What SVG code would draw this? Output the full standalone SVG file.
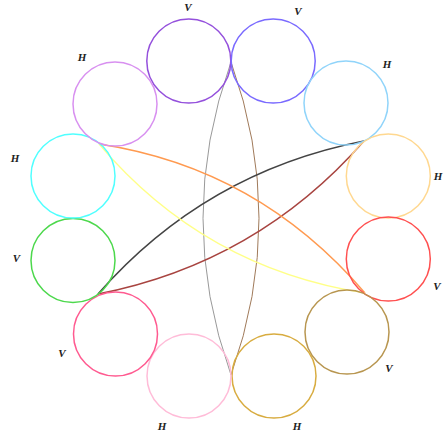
<svg xmlns="http://www.w3.org/2000/svg" width="444" height="436" viewBox="0 0 444 436">
<style>
.n{fill:none;stroke-width:1.5}
.l{font-family:"Liberation Serif","DejaVu Serif",serif;font-style:italic;font-weight:bold;font-size:11px;fill:#222;text-anchor:middle}
.e{fill:none}
</style>
<rect width="444" height="436" fill="#fff"/>
<g id="edges">
<path class="e" d="M231,62 Q175,218 231,375" stroke="#999" stroke-width="1"/>
<path class="e" d="M231,62 Q287,218 231,375" stroke="#a07a5a" stroke-width="1"/>
<path class="e" d="M98,294 Q205,172 364,141" stroke="#444" stroke-width="1.6"/>
<path class="e" d="M98,294 Q257,263 364,141" stroke="#a84440" stroke-width="1.5"/>
<path class="e" d="M99,144 Q258,168 365,293" stroke="#ff9a50" stroke-width="1.3"/>
<path class="e" d="M99,144 Q204,268 365,293" stroke="#ffff88" stroke-width="1.2"/>
</g>
<g id="n1"><circle class="n" cx="188.8" cy="61" r="42" stroke="#9450dc"/><text class="l" x="188" y="11">V</text></g>
<g id="n2"><circle class="n" cx="273.2" cy="61" r="42" stroke="#7a6aff"/><text class="l" x="298" y="15">V</text></g>
<g id="n3"><circle class="n" cx="346" cy="103" r="42" stroke="#90d4fa"/><text class="l" x="387" y="67.5">H</text></g>
<g id="n4"><circle class="n" cx="388.3" cy="176" r="42" stroke="#ffd890"/><text class="l" x="438" y="179.5">H</text></g>
<g id="n5"><circle class="n" cx="388.3" cy="259" r="42" stroke="#ff5050"/><text class="l" x="437" y="289.5">V</text></g>
<g id="n6"><circle class="n" cx="347" cy="332" r="42" stroke="#b89650"/><text class="l" x="389" y="371.5">V</text></g>
<g id="n7"><circle class="n" cx="274" cy="376" r="42" stroke="#d8ac40"/><text class="l" x="297" y="429.5">H</text></g>
<g id="n8"><circle class="n" cx="189" cy="376" r="42" stroke="#ffbcd8"/><text class="l" x="162" y="429.5">H</text></g>
<g id="n9"><circle class="n" cx="115.5" cy="334" r="42" stroke="#ff5a90"/><text class="l" x="62" y="356.5">V</text></g>
<g id="n10"><circle class="n" cx="73" cy="260.5" r="42" stroke="#4cd84c"/><text class="l" x="16.5" y="261.5">V</text></g>
<g id="n11"><circle class="n" cx="73" cy="176" r="42" stroke="#50ffff"/><text class="l" x="15" y="161.5">H</text></g>
<g id="n12"><circle class="n" cx="115" cy="104" r="42" stroke="#d890f0"/><text class="l" x="82" y="60.5">H</text></g>
</svg>
